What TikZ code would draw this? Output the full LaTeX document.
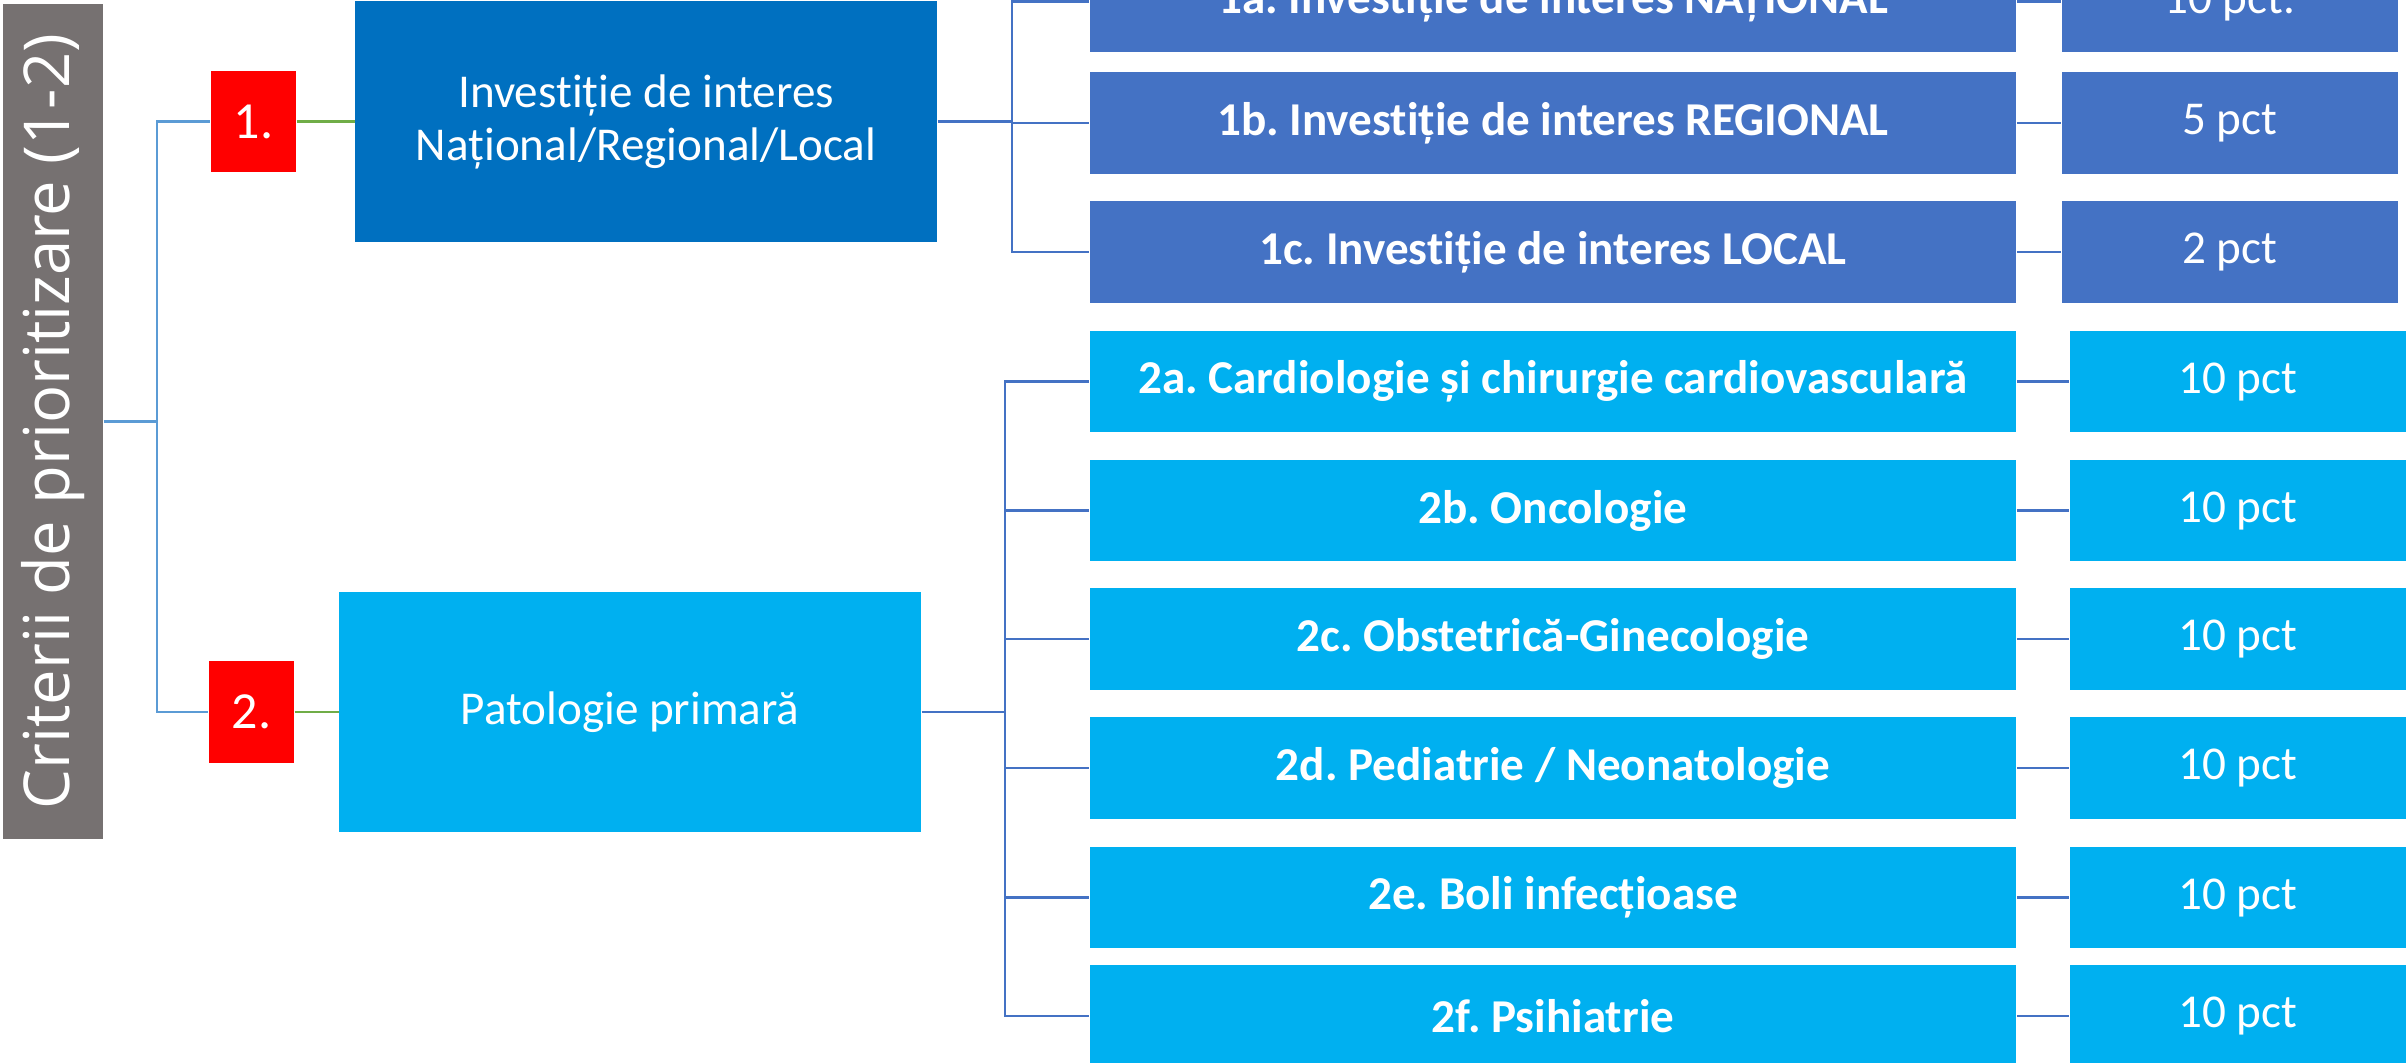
\documentclass[tikz,border=0pt]{standalone}
\usepackage{fontspec}
\setmainfont{Carlito}[Ligatures=NoCommon]
\newfontfamily\barfont{Open Sans}
\usetikzlibrary{positioning}
\frenchspacing

\definecolor{barGrey}{HTML}{767171}
\definecolor{darkBlue}{HTML}{0070C0}
\definecolor{midBlue}{HTML}{4472C4}
\definecolor{lightBlue}{HTML}{00B0F0}
\definecolor{lineBlue}{HTML}{5B9BD5}
\definecolor{lineGreen}{HTML}{70AD47}

\begin{document}
\begin{tikzpicture}[x=0.01cm,y=-0.01cm,
    box/.style={fill=#1, text=white, inner sep=0pt, align=center, font=\fontsize{13.4}{15.1}\selectfont},
    bigbox/.style={box=#1, minimum width=5.81cm, minimum height=2.4cm},
    subbox/.style={box=#1, minimum width=9.26cm, minimum height=1.01cm, font=\fontsize{13.4}{15.1}\selectfont\bfseries},
    pctbox/.style={box=#1, minimum width=3.36cm, minimum height=1.01cm},
    nrbox/.style={box=red, minimum width=0.85cm, minimum height=1.01cm, font=\fontsize{14.8}{16}\selectfont},
    lineL/.style={draw=lineBlue, line width=0.6pt},
    lineG/.style={draw=lineGreen, line width=0.8pt},
    lineR/.style={draw=midBlue, line width=0.8pt}]
                \useasboundingbox (0,0) rectangle (2408,1062);

                \node[fill=barGrey, text=white, rotate=90, minimum width=8.35cm, minimum height=1cm, inner sep=0pt,
                      font=\barfont\fontsize{18}{20}\selectfont] at (53,421.5) (crit) {Criterii de prioritizare (1-2)};

                \node[nrbox] at (253.5,121.5) (n1) {1.};
                \node[nrbox] at (251.5,712) (n2) {2.};
                \node[bigbox=darkBlue, right=0.58cm of n1] (inv) {Investiție de interes\\Național/Regional/Local};
                \node[bigbox=lightBlue, right=0.44cm of n2] (pat) {Patologie primară};

                \node[subbox=midBlue] at (1553,1.5) (s1a) {1a. Investiție de interes NAȚIONAL};
                \node[subbox=midBlue] at (1553,123) (s1b) {1b. Investiție de interes REGIONAL};
                \node[subbox=midBlue] at (1553,252) (s1c) {1c. Investiție de interes LOCAL};
                \node[pctbox=midBlue, right=0.44cm of s1a] (p1a) {10 pct.};
                \node[pctbox=midBlue, right=0.44cm of s1b] (p1b) {5 pct};
                \node[pctbox=midBlue, right=0.44cm of s1c] (p1c) {2 pct};

                \node[subbox=lightBlue] at (1553,381.5) (s2a) {2a. Cardiologie și chirurgie cardiovasculară};
                \node[subbox=lightBlue] at (1553,510.5) (s2b) {2b. Oncologie};
                \node[subbox=lightBlue] at (1553,639) (s2c) {2c. Obstetrică-Ginecologie};
                \node[subbox=lightBlue] at (1553,768) (s2d) {2d. Pediatrie / Neonatologie};
                \node[subbox=lightBlue] at (1553,897.5) (s2e) {2e. Boli infecțioase};
                \node[subbox=lightBlue] at (1553,1016) (s2f) {2f. Psihiatrie};
                \node[pctbox=lightBlue, right=0.52cm of s2a] (p2a) {10 pct};
                \node[pctbox=lightBlue, right=0.52cm of s2b] (p2b) {10 pct};
                \node[pctbox=lightBlue, right=0.52cm of s2c] (p2c) {10 pct};
                \node[pctbox=lightBlue, right=0.52cm of s2d] (p2d) {10 pct};
                \node[pctbox=lightBlue, right=0.52cm of s2e] (p2e) {10 pct};
                \node[pctbox=lightBlue, right=0.52cm of s2f] (p2f) {10 pct};

                \coordinate (jL) at (157,421.5);
                \coordinate (j1) at (1012,121.5);
                \coordinate (j2) at (1005,712);

                % left tree
                \draw[lineL] (crit.south) -- (jL);
                \draw[lineL] (jL) |- (n1);
                \draw[lineL] (jL) |- (n2);
                \draw[lineG] (n1) -- (inv);
                \draw[lineG] (n2) -- (pat);

                % criterion 1
                \draw[lineR] (inv) -- (j1);
                \draw[lineR] (j1) |- (s1a);
                \draw[lineR] (j1) |- (s1b);
                \draw[lineR] (j1) |- (s1c);
                \draw[lineR] (s1a) -- (p1a);
                \draw[lineR] (s1b) -- (p1b);
                \draw[lineR] (s1c) -- (p1c);

                % criterion 2
                \draw[lineR] (pat) -- (j2);
                \draw[lineR] (j2) |- (s2a);
                \draw[lineR] (j2) |- (s2b);
                \draw[lineR] (j2) |- (s2c);
                \draw[lineR] (j2) |- (s2d);
                \draw[lineR] (j2) |- (s2e);
                \draw[lineR] (j2) |- (s2f);
                \draw[lineR] (s2a) -- (p2a);
                \draw[lineR] (s2b) -- (p2b);
                \draw[lineR] (s2c) -- (p2c);
                \draw[lineR] (s2d) -- (p2d);
                \draw[lineR] (s2e) -- (p2e);
                \draw[lineR] (s2f) -- (p2f);
            \end{tikzpicture}
\end{document}
